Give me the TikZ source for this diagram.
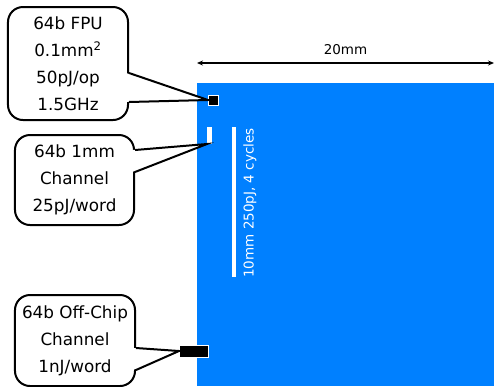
\documentclass[tikz,border=0pt]{standalone}
\usepackage{fontspec}
\setmainfont{DejaVu Sans}
\usepackage{tikz}
\usetikzlibrary{arrows.meta, positioning, calc}
\definecolor{dieblue}{RGB}{0,128,255}

\begin{document}
\begin{tikzpicture}[x=1bp, y=-1bp,
  callout/.style={draw, line width=2bp, rounded corners=15bp, fill=white,
    align=center, inner sep=0pt, font=\fontsize{16.8bp}{27bp}\selectfont},
  part/.style={inner sep=0pt, outer sep=0pt},
  pointer/.style={line width=2bp, line join=miter}]
  \useasboundingbox (0,0) rectangle (494,386);
  % Die
  \node[part, fill=dieblue, anchor=north west, minimum width=297bp,
    minimum height=303bp] (die) at (197,83) {};
  % Width dimension
  \coordinate (dimleft) at (197,63);
  \coordinate (dimright) at (494,63);
  \draw[{Stealth[length=6bp,width=5bp]}-{Stealth[length=6bp,width=5bp]},
    line width=2bp] (dimleft) -- (dimright)
    node[midway, above=4bp, font=\fontsize{13.5bp}{15bp}\selectfont] (dimlabel) {20mm};
  % Parts on the die
  \node[part, fill=black, draw=white, line width=1bp, minimum size=10bp] (fpu) at (213,100) {};
  \node[part, fill=white, minimum width=5bp, minimum height=17bp] (chan) at (209.5,135.5) {};
  \node[part, fill=white, minimum width=4bp, minimum height=150bp] (wire) at (234,202) {};
  \node[text=white, rotate=90, font=\fontsize{13.5bp}{15bp}\selectfont] (wirelabel)
    at (250,203) {10mm 250pJ, 4 cycles};
  \node[part, fill=black, draw=white, line width=1bp, minimum width=29bp,
    minimum height=12bp] (offchip) at (193.5,351) {};
  % Callouts
  \node[callout, minimum width=120bp, minimum height=113bp] (fpubox) at (68,63.5)
    {64b FPU\\0.1mm\textsuperscript{2}\\50pJ/op\\1.5GHz};
  \node[callout, minimum width=119bp, minimum height=90bp] (chanbox) at (74.5,180)
    {64b 1mm\\Channel\\25pJ/word};
  \node[callout, minimum width=120bp, minimum height=91bp] (offbox) at (75,340.5)
    {64b Off-Chip\\Channel\\1nJ/word};
  % Pointers
  \fill[white] ($(fpubox.east)+(-3,9.5)$) -- (fpu.west) -- ($(fpubox.east)+(-3,38.5)$) -- cycle;
  \draw[pointer] ($(fpubox.east)+(0,9.5)$) -- (fpu.west) -- ($(fpubox.east)+(0,38.5)$);
  \fill[white] ($(chanbox.east)+(-3,-30)$) -- (chan.south west) -- ($(chanbox.east)+(-3,-8)$) -- cycle;
  \draw[pointer] ($(chanbox.east)+(0,-30)$) -- (chan.south west) -- ($(chanbox.east)+(0,-8)$);
  \fill[white] ($(offbox.east)+(-3,7.5)$) -- (offchip.west) -- ($(offbox.east)+(-3,29.5)$) -- cycle;
  \draw[pointer] ($(offbox.east)+(0,7.5)$) -- (offchip.west) -- ($(offbox.east)+(0,29.5)$);
\end{tikzpicture}
\end{document}
